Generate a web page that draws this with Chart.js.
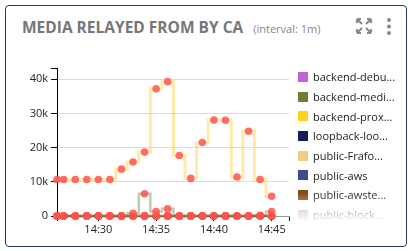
<!DOCTYPE html>
<html>
<head>
<meta charset="utf-8">
<script src="https://cdn.jsdelivr.net/npm/chart.js@4.4.1/dist/chart.umd.min.js"></script>
<style>
  html, body { margin: 0; padding: 0; width: 408px; height: 251px; background: #fff; overflow: hidden; font-family: "Open Sans", sans-serif; }
  .card { position: absolute; left: 5px; top: 5px; width: 400px; height: 240px; border: 1px solid #1d3c6e; border-radius: 4px; }
  .title { position: absolute; left: 22px; top: 16px; display: flex; align-items: baseline; white-space: nowrap; }
  .title .main { font-size: 15.5px; font-weight: 700; color: #777; }
  .title .sub { font-size: 11px; color: #888; margin-left: 10px; }
  .icons { position: absolute; left: 355px; top: 17px; }
  #chart { position: absolute; left: 0; top: 0; }
  .legend { position: absolute; left: 298px; top: 67px; width: 100px; height: 160px;
    -webkit-mask-image: linear-gradient(to bottom, #000 0%, #000 79%, transparent 97%);
    mask-image: linear-gradient(to bottom, #000 0%, #000 79%, transparent 97%); }
  .legend .item { height: 19.7px; display: flex; align-items: center; font-size: 11px; color: #222; white-space: nowrap; }
  .legend .box { width: 10px; height: 10px; margin-right: 5px; flex: none; }
</style>
</head>
<body>
<div class="card"></div>
<div class="title"><span class="main">MEDIA RELAYED FROM BY CA</span><span class="sub">(interval: 1m)</span></div>
<svg class="icons" width="42" height="18" viewBox="0 0 42 18">
  <g stroke="#888" stroke-width="2" fill="none">
    <path d="M2 2 L7 7 M2 2 H6 M2 2 V6"/>
    <path d="M16 2 L11 7 M16 2 H12 M16 2 V6"/>
    <path d="M2 16 L7 11 M2 16 H6 M2 16 V12"/>
    <path d="M16 16 L11 11 M16 16 H12 M16 16 V12"/>
  </g>
  <g fill="#888">
    <circle cx="34" cy="3" r="2"/>
    <circle cx="34" cy="9.5" r="2"/>
    <circle cx="34" cy="16" r="2"/>
  </g>
</svg>
<canvas id="chart" width="408" height="251"></canvas>
<div class="legend" id="legend"></div>
<script>
// minutes past 14:00, first sample is partial
const minutes = [26.42, 27, 28, 29, 30, 31, 32, 33, 34, 35, 36, 37, 38, 39, 40, 41, 42, 43, 44, 45];

const seriesNames = ['backend-debu...', 'backend-medi...', 'backend-prox...', 'loopback-loo...',
  'public-Frafo...', 'public-aws', 'public-awste...', 'public-block...'];
const seriesColors = ['#c262d4', '#6b7f35', '#ffd21f', '#141c5a', '#efcf7e', '#3d4a8c', '#8b4c12', '#c9a8a0'];

const backendDebug = [0, 0, 0, 0, 0, 0, 0, 0, 0, 0, 0, 0, 0, 0, 0, 0, 0, 0, 0, 0];
const backendMedia = [0, 0, 0, 0, 0, 0, 0, 800, 6500, 1300, 2100, 0, 0, 0, 0, 0, 0, 0, 200, 1300];
const backendProxy = [0, 0, 0, 0, 0, 0, 0, 0, 0, 0, 0, 0, 0, 0, 0, 0, 0, 0, 0, 0];
const loopback = [0, 0, 0, 0, 0, 0, 0, 0, 0, 0, 0, 0, 0, 0, 0, 0, 0, 0, 0, 0];
const publicFrafo = [10700, 10700, 10700, 10700, 10700, 10700, 13700, 15800, 18700, 37200,
  39300, 17700, 11000, 21500, 28100, 28000, 11400, 24800, 10700, 5800];
const publicAws = [0, 0, 0, 0, 0, 0, 0, 0, 0, 0, 0, 0, 0, 0, 0, 0, 0, 0, 0, 0];
const publicAwste = [0, 0, 0, 0, 0, 0, 0, 0, 0, 0, 0, 0, 0, 0, 0, 0, 0, 0, 0, 0];
const publicBlock = [0, 0, 0, 0, 0, 0, 0, 0, 0, 0, 0, 0, 0, 0, 0, 0, 0, 0, 0, 0];

const xTicks = [30, 35, 40, 45];
const yTicks = [0, 10000, 20000, 30000, 40000];
const xMin = 26.42, xMax = 46.5;
const yMax = 43300;

const allSeries = [backendDebug, backendMedia, backendProxy, loopback, publicFrafo, publicAws, publicAwste, publicBlock];
// line colours as drawn (faded)
const lineColors = ['rgba(194,98,212,0.15)', 'rgba(107,127,53,0.4)', 'rgba(255,210,31,0.15)', 'rgba(20,28,90,0.1)',
  'rgba(255,214,80,0.5)', 'rgba(61,74,140,0.1)', 'rgba(139,76,18,0.55)', 'rgba(201,168,160,0.1)'];

const datasets = allSeries.map((vals, i) => ({
  label: seriesNames[i],
  data: vals.map((v, j) => ({ x: minutes[j], y: v })),
  borderColor: lineColors[i],
  borderWidth: i === 4 ? 3 : 2.5,
  stepped: 'middle',
  pointRadius: 3.8,
  pointBorderWidth: 0,
  pointBackgroundColor: 'rgba(255,85,80,0.85)',
  clip: false,
  order: i === 6 ? 0 : (i === 4 ? 1 : (i === 1 ? 2 : 10 - i))
}));

const font = { family: '"Open Sans", sans-serif', size: 11 };

new Chart(document.getElementById('chart').getContext('2d'), {
  type: 'line',
  data: { datasets },
  options: {
    responsive: false,
    animation: false,
    layout: { padding: { left: 0, right: 119, top: 68, bottom: 0 } },
    plugins: { legend: { display: false }, tooltip: { enabled: false } },
    scales: {
      x: {
        type: 'linear', min: xMin, max: xMax,
        afterBuildTicks(s) { s.ticks = [xMin, ...xTicks, xMax].map(v => ({ value: v })); },
        afterFit(s) { s.height = 35; },
        grid: { drawOnChartArea: false, tickLength: 5, tickColor: '#000' },
        border: { color: '#999', width: 1 },
        ticks: {
          font, color: '#222', padding: 2, maxRotation: 0, autoSkip: false,
          callback(v) { return xTicks.includes(v) ? '14:' + String(v).padStart(2, '0') : ''; }
        }
      },
      y: {
        min: 0, max: yMax,
        afterBuildTicks(s) { s.ticks = [...yTicks, yMax].map(v => ({ value: v })); },
        afterFit(s) { s.width = 57; },
        grid: {
          tickLength: 6, tickColor: '#000',
          color(c) { return c.tick && c.tick.value > 0 && c.tick.value <= 40000 ? '#dcdcdc' : 'transparent'; }
        },
        border: { color: '#000', width: 1 },
        ticks: {
          font, color: '#222', padding: 3,
          callback(v) { return yTicks.includes(v) ? (v === 0 ? '0' : v / 1000 + 'k') : ''; }
        }
      }
    }
  }
});

// html legend, faded at the bottom like the dashboard widget
document.getElementById('legend').innerHTML = seriesNames.map((n, i) =>
  `<div class="item"><span class="box" style="background:${seriesColors[i]}"></span>${n}</div>`).join('');
</script>
</body>
</html>
